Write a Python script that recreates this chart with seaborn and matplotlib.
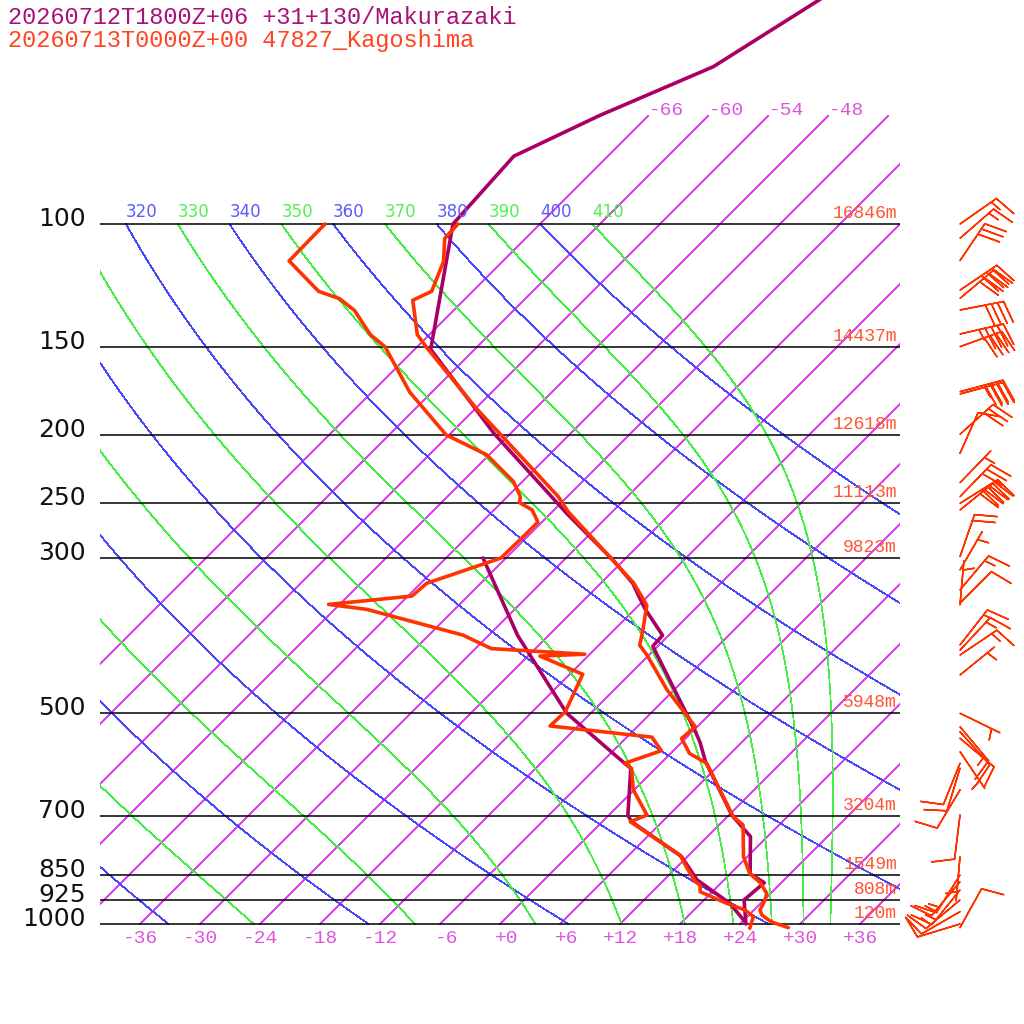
import numpy as np
import matplotlib
matplotlib.use("Agg")
import matplotlib.pyplot as plt
import seaborn as sns

# Makurazaki (model +31h) temperature / dew point, hPa and deg C
mk_p = [1000, 924, 873, 848, 750, 699, 586, 551, 531, 401, 387, 354, 326, 302, 259, 199,
        151, 100, 80, 70, 59.6, 49.8, 46]
mk_t = [24.6, 22.0, 22.3, 20.0, 16.3, 12.3, 4.3, 1.9, 0.3, -12.5, -12.6, -17.1, -20.8, -25.1,
        -34.4, -49.7, -64.4, -74.7, -75.4, -70.9, -64.4, -61.2, -59.8]
mk_dp = [993, 934, 865, 801, 714, 699, 599, 589.5, 500, 387, 300]
mk_td = [24.3, 20.9, 15.3, 11.4, 2.9, 1.9, -2.5, -3.6, -14.4, -27.1, -38.3]

# Kagoshima 47827 sounding
kg_p = [1012, 993, 971, 955, 924, 904, 873, 846.5, 801, 722, 702.6, 589.5, 570.6, 543.1, 522.6,
        463, 412.8, 399.8, 380.3, 350.4, 325.9, 302.2, 257.7, 245.2, 183.5, 149.8, 143.9,
        128.5, 124.8, 113.1, 104.8, 100]
kg_t = [29.2, 26.9, 25.3, 24.6, 24.1, 23.6, 21.9, 19.9, 17.6, 14.4, 12.6, 4.6, 1.9, -0.4, -0.2,
        -6.7, -12.2, -13.9, -15.1, -17.2, -20.7, -25.1, -34.4, -36.9, -53.9, -65.1, -67.2,
        -71.1, -70.1, -71.9, -74.1, -74.2]
kg_dp = [1014, 976.2, 955, 934.2, 899.4, 879.6, 870.2, 828.3, 797, 714.3, 698.7, 643, 599.6,
         589.5, 565.4, 540.8, 521.3, 497.4, 439.8, 414.2, 411.7, 404.2, 386.6, 355.2, 349.5,
         340, 326, 300, 276.7, 266.6, 256.1, 250, 245.2, 233.3, 213.5, 200.1, 173.9, 149.8,
         143.9, 132.9, 127.8, 124.8, 112.9, 100]
kg_td = [25.4, 24.6, 23.1, 20.6, 16.8, 16.1, 15.3, 12.9, 11.1, 2.8, 3.8, -0.1, -2.4, -3.6,
         -1.2, -3.5, -14.8, -14.7, -16.7, -22.8, -18.5, -28.4, -32.6, -44.8, -49.1, -41.6,
         -41.4, -36.5, -36.4, -36.4, -38.2, -40.2, -40.7, -42.9, -48.3, -54.3, -62.2, -69.2,
         -71.9, -75.9, -78.6, -81.4, -87.4, -87.5]

# Kagoshima winds: pressure, direction (deg), speed (kt)
wb_p = [100, 104.8, 112.8, 124.3, 127.7, 132.7, 143.6, 149.7, 173.6, 174.9, 199.7, 212.6,
        234.2, 245.2, 250.6, 256.2, 298.7, 312.1, 333.3, 347.9, 350.2, 399.4, 406.2, 412.8,
        440.8, 500, 522.6, 531.3, 542.9, 567.3, 589.5, 599.2, 643.5, 698.7, 801.4, 851.1,
        870.1, 894.2, 924.1, 960.3, 1000, 1012]
wb_dir = [55, 49, 34, 56, 50, 79, 77, 70, 75, 75, 48, 24, 44, 44, 58, 51, 19, 30, 40, 45, 5,
          38, 43, 56, 51, 116, 140, 138, 130, 146, 202, 197, 211, 187, 185, 212, 220, 219, 230,
          240, 253, 29]
wb_spd = [15, 15, 30, 40, 40, 40, 45, 40, 40, 35, 30, 10, 5, 30, 40, 40, 20, 5, 15, 10, 5, 15,
          15, 15, 5, 5, 15, 10, 10, 5, 10, 10, 10, 10, 5, 15, 15, 15, 15, 10, 10, 10]

levels = [100, 150, 200, 250, 300, 500, 700, 850, 925, 1000]
heights = ["16846m", "14437m", "12618m", "11113m", "9823m", "5948m", "3204m", "1549m",
           "808m", "120m"]
t_ticks = list(range(-36, 37, 6))
isotherms = list(range(-66, 43, 6))
top_iso = [-66, -60, -54, -48]
theta_dry = list(range(240, 401, 20))
theta_wet = list(range(210, 411, 20))

K = 30.4  # skew (deg C per unit of ln p)


def skx(t, p):
    return np.asarray(t, dtype=float) + K * np.log(1000.0 / np.asarray(p, dtype=float))


def dtdp(T, p):
    es = 6.112 * np.exp(17.67 * (T - 273.15) / (T - 29.65))
    rs = 0.622 * es / (p - es)
    lv, rd, cp = 2.501e6, 287.04, 1005.7
    return (rd * T + lv * rs) / (p * (cp + lv * lv * rs * 0.622 / (rd * T * T)))


def moist(th):
    ps = np.geomspace(100, 1000, 500)
    T = [th * 0.1 ** 0.2857]
    for i in range(1, len(ps)):
        dp = ps[i] - ps[i - 1]
        k1 = dtdp(T[-1], ps[i - 1])
        k2 = dtdp(T[-1] + 0.5 * dp * k1, ps[i - 1] + 0.5 * dp)
        T.append(T[-1] + dp * k2)
    return ps, np.array(T) - 273.15


sns.set_style("white")
plt.rcParams['font.family'] = ['DejaVu Sans']

fig = plt.figure(figsize=(10.24, 10.24), dpi=100)
ax = fig.add_axes([100 / 1024, 89 / 1024, 800 / 1024, 935 / 1024])
ax.set_yscale('log')
ax.set_xlim(-40, 40)
ax.set_ylim(1000 * np.exp(11 / 304), 1000 * np.exp(-924 / 304))
ax.axis('off')

# background: isotherms, dry adiabats, moist adiabats (1px, aliased like the original)
lw_bg = 0.52
pp = np.geomspace(1000, 70, 150)
for t in isotherms:
    ax.plot(skx(t, pp), pp, color='#dd44ee', lw=lw_bg, antialiased=False)

pp = np.geomspace(1000, 100, 200)
for th in theta_dry:
    ax.plot(skx(th * (pp / 1000) ** 0.2857 - 273.15, pp), pp, color='#4848ff', lw=lw_bg,
            antialiased=False)
for th in theta_wet:
    mp, mt = moist(th)
    ax.plot(skx(mt, mp), mp, color='#44ee44', lw=lw_bg, antialiased=False)

for th in sorted(theta_dry + theta_wet):
    if th < 320:
        continue
    c = '#5a5aff' if th in theta_dry else '#55ee55'
    ax.annotate(str(th), xy=(skx(th * 0.1 ** 0.2857 - 273.15, 100), 100), xytext=(0, 3),
                textcoords='offset pixels', ha='left', va='bottom', color=c, fontsize=12,
                clip_on=True, annotation_clip=False)

ax.hlines(levels, -40, 40, color='black', lw=1.1)

sns.lineplot(x=skx(mk_t, mk_p), y=mk_p, sort=False, estimator=None, color='#aa0066',
             lw=2.6, ax=ax)
sns.lineplot(x=skx(mk_td, mk_dp), y=mk_dp, sort=False, estimator=None, color='#aa0066',
             lw=2.6, ax=ax)
sns.lineplot(x=skx(kg_t, kg_p), y=kg_p, sort=False, estimator=None, color='#ff3300',
             lw=2.6, ax=ax)
sns.lineplot(x=skx(kg_td, kg_dp), y=kg_dp, sort=False, estimator=None, color='#ff3300',
             lw=2.6, ax=ax)

mono = 'Liberation Mono'
for lev, h in zip(levels, heights):
    ax.annotate(str(lev), xy=(-40, lev), xytext=(-14, -2), textcoords='offset pixels',
                ha='right', va='baseline', fontsize=18, color='#111111',
                annotation_clip=False)
    ax.annotate(h, xy=(40, lev), xytext=(-3, 2), textcoords='offset pixels', ha='right',
                va='bottom', fontsize=13, color='#ff5533', family=mono)

for t in t_ticks:
    ax.annotate(f"{t:+d}", xy=(t, 1000), xytext=(18, -6), textcoords='offset pixels',
                ha='right', va='top', fontsize=14, color='#dd55dd', family=mono,
                annotation_clip=False)
for t in top_iso:
    ax.annotate(f"{t:+d}", xy=(skx(t, 70), 70), xytext=(0, 5), textcoords='offset pixels',
                ha='left', va='center', fontsize=14, color='#dd55dd', family=mono)

d = np.radians(wb_dir)
u = -np.array(wb_spd) * np.sin(d)
v = -np.array(wb_spd) * np.cos(d)
ax.barbs(np.full(len(wb_p), 46.0), wb_p, u, v, length=8, color='#ff3300', linewidth=1.1,
         clip_on=False, sizes=dict(height=0.5, spacing=0.14, emptybarb=0.0))

fig.text(8 / 1024, 1 - 17 / 1024, "20260712T1800Z+06 +31+130/Makurazaki", color='#aa1177',
         fontsize=17, family=mono, va='center', ha='left')
fig.text(8 / 1024, 1 - 41 / 1024, "20260713T0000Z+00 47827_Kagoshima", color='#ff4422',
         fontsize=17, family=mono, va='center', ha='left')

fig.savefig('out.png', dpi=100, facecolor='white')
